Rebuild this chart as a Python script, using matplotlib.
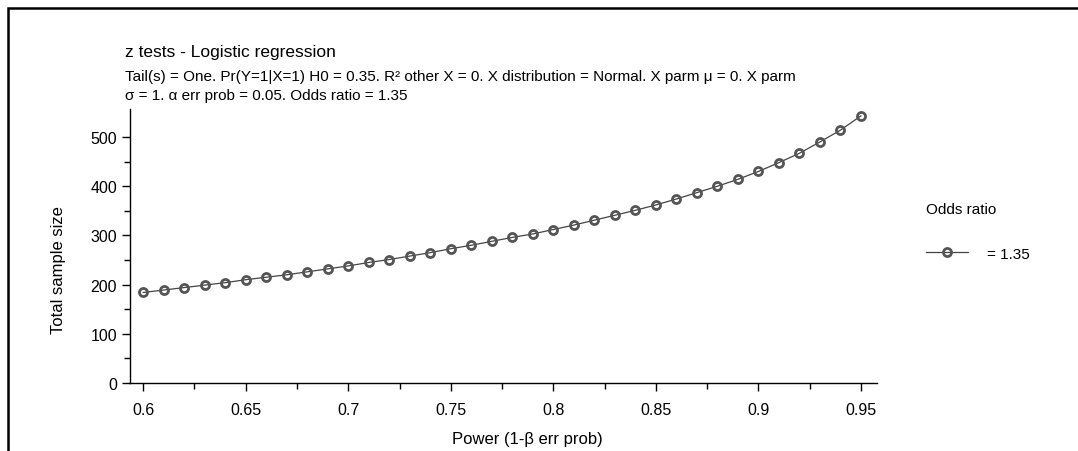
import matplotlib
matplotlib.use("Agg")
import matplotlib.pyplot as plt
from matplotlib.patches import Rectangle
from matplotlib.ticker import FixedLocator

plt.rcParams['font.family'] = ['Liberation Sans', 'DejaVu Sans']

# --- data ---
power = [0.60, 0.61, 0.62, 0.63, 0.64, 0.65, 0.66, 0.67, 0.68, 0.69,
         0.70, 0.71, 0.72, 0.73, 0.74, 0.75, 0.76, 0.77, 0.78, 0.79,
         0.80, 0.81, 0.82, 0.83, 0.84, 0.85, 0.86, 0.87, 0.88, 0.89,
         0.90, 0.91, 0.92, 0.93, 0.94, 0.95]
sample_size = [184, 189, 194, 199, 204, 210, 215, 220, 226, 232,
               238, 245, 251, 258, 265, 273, 280, 288, 296, 303,
               312, 321, 331, 341, 351, 362, 374, 387, 400, 414,
               430, 448, 467, 490, 514, 543]
series_label = "= 1.35"
legend_title = "Odds ratio"

x_major = [0.6, 0.65, 0.7, 0.75, 0.8, 0.85, 0.9, 0.95]
x_minor = [0.625, 0.675, 0.725, 0.775, 0.825, 0.875, 0.925]
y_major = [0, 100, 200, 300, 400, 500]
y_minor = [50, 150, 250, 350, 450]

title = "z tests - Logistic regression"
subtitle_lines = [
    "Tail(s) = One. Pr(Y=1|X=1) H0 = 0.35. R² other X = 0. X distribution = Normal. X parm μ = 0. X parm",
    "σ = 1. α err prob = 0.05. Odds ratio = 1.35",
]

W, H = 1078, 452
fig = plt.figure(figsize=(W / 100, H / 100), dpi=100)

# outer frame (cropped at right and bottom)
fig.patches.append(Rectangle((7.5 / W, -0.1), 1.2, 1.1 - 9 / H, transform=fig.transFigure,
                             fill=False, edgecolor='black', linewidth=1.8))

ax = fig.add_axes([129.7 / W, 1 - 384 / H, (876.7 - 129.7) / W, (384 - 110) / H])

ax.plot(power, sample_size, color='#444444', linewidth=0.9, marker='o',
        markersize=5.8, markerfacecolor='none', markeredgecolor='#555555',
        markeredgewidth=2.0, label=series_label)

ax.set_xlim(0.5934, 0.9577)
ax.set_ylim(0, 557)
ax.xaxis.set_major_locator(FixedLocator(x_major))
ax.xaxis.set_minor_locator(FixedLocator(x_minor))
ax.yaxis.set_major_locator(FixedLocator(y_major))
ax.yaxis.set_minor_locator(FixedLocator(y_minor))
ax.set_xticklabels([f"{v:g}" for v in x_major])
ax.set_yticklabels([str(v) for v in y_major])

for s in ['top', 'right']:
    ax.spines[s].set_visible(False)
for s in ['left', 'bottom']:
    ax.spines[s].set_linewidth(1.0)

ax.tick_params(axis='x', which='major', direction='out', length=6, width=1, pad=8, labelsize=11.5)
ax.tick_params(axis='x', which='minor', direction='out', length=4, width=1)
ax.tick_params(axis='y', which='major', direction='out', length=6, width=1, pad=3, labelsize=11.5)
ax.tick_params(axis='y', which='minor', direction='out', length=4, width=1)

fig.text(527 / W, 1 - 440 / H, "Power (1-β err prob)", ha='center', va='center', fontsize=12)
fig.text(59 / W, 1 - 270 / H, "Total sample size", ha='center', va='center',
         rotation=90, fontsize=12)

fig.text(125 / W, 1 - 57.5 / H, title, ha='left', va='baseline', fontsize=12.5)
for i, line in enumerate(subtitle_lines):
    fig.text(125 / W, 1 - (81 + 19 * i) / H, line, ha='left', va='baseline', fontsize=11)

leg = ax.legend(loc='upper left', bbox_to_anchor=(914 / W, 1 - 191 / H),
                bbox_transform=fig.transFigure, frameon=False, title=legend_title,
                alignment='left', fontsize=11, title_fontsize=11,
                handlelength=2.75, handletextpad=1.25, labelspacing=2.0,
                borderpad=0.3)

fig.savefig("out.png", dpi=100)
